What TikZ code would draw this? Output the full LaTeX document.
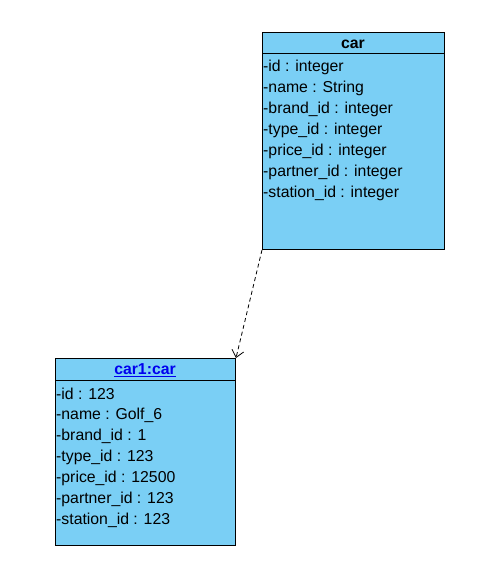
\documentclass[tikz,border=0pt]{standalone}
\usepackage{fontspec}
\setmainfont{Liberation Sans}
\usetikzlibrary{arrows.meta,calc}
\definecolor{boxfill}{HTML}{7ACFF5}
\definecolor{linkblue}{HTML}{0000EE}
\tikzset{
  classbox/.style={draw=black, line width=1pt, fill=boxfill, rectangle, inner sep=0pt, anchor=north west},
  attr/.style={anchor=west, inner sep=0pt, font=\fontsize{15.8}{18}\selectfont},
  title/.style={anchor=center, inner sep=0pt, font=\fontsize{15.8}{18}\selectfont\bfseries},
  dep/.style={draw=black, line width=0.8pt, dash pattern=on 4pt off 3pt, -{Straight Barb[length=7pt,width=12pt,line width=0.8pt]}}
}
\begin{document}
\begin{tikzpicture}[x=1pt,y=1pt]
\useasboundingbox (0,0) rectangle (479,-564);
% class car
\node[classbox, minimum width=182pt, minimum height=217pt] (car) at (262,-32) {};
\draw[line width=1pt] ($(car.north west)+(0,-21.5)$) coordinate (carhl) -- ($(car.north east)+(0,-21.5)$) coordinate (carhr);
\node[title] (cart) at (353,-44) {car};
\node[attr] (c1) at (263,-67) {-id : integer};
\node[attr] (c2) at (263,-88) {-name : String};
\node[attr] (c3) at (263,-109) {-brand\_id : integer};
\node[attr] (c4) at (263,-130) {-type\_id : integer};
\node[attr] (c5) at (263,-151) {-price\_id : integer};
\node[attr] (c6) at (263,-172) {-partner\_id : integer};
\node[attr] (c7) at (263,-193) {-station\_id : integer};
% object car1
\node[classbox, minimum width=180pt, minimum height=187pt] (car1) at (55,-358) {};
\draw[line width=1pt] ($(car1.north west)+(0,-22)$) coordinate (o1hl) -- ($(car1.north east)+(0,-22)$) coordinate (o1hr);
\node[title, text=linkblue] (car1t) at (145,-370) {\underline{car1:car}};
\node[attr] (o1) at (56,-394) {-id : 123};
\node[attr] (o2) at (56,-415) {-name : Golf\_6};
\node[attr] (o3) at (56,-436) {-brand\_id : 1};
\node[attr] (o4) at (56,-457) {-type\_id : 123};
\node[attr] (o5) at (56,-478) {-price\_id : 12500};
\node[attr] (o6) at (56,-499) {-partner\_id : 123};
\node[attr] (o7) at (56,-520) {-station\_id : 123};
% dependency
\draw[dep] (car.south west) -- (car1.north east);
\end{tikzpicture}
\end{document}
